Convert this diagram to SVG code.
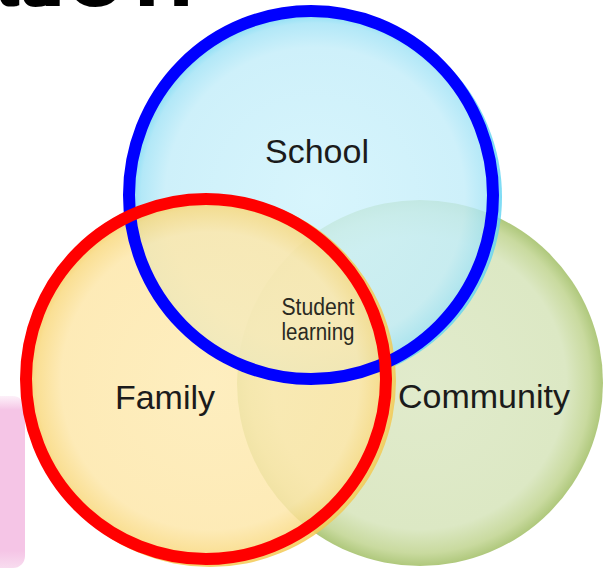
<svg xmlns="http://www.w3.org/2000/svg" width="604" height="569" viewBox="0 0 604 569">
  <style>
    .label { font-family: "Liberation Sans", Arial, sans-serif; fill: #1b1b1b; font-size: 34px; }
    .small { font-family: "Liberation Sans", Arial, sans-serif; fill: #2a2a22; font-size: 23px; }
    .title { font-family: "Liberation Sans", Arial, sans-serif; font-weight: bold; fill: #000; font-size: 100px; }
    .outline { fill: none; stroke-width: 12; }
  </style>
  <defs>
    <radialGradient id="gSchool" cx="0.5" cy="0.5" r="0.5">
      <stop offset="0" stop-color="#cff3fc"/>
      <stop offset="0.8" stop-color="#c3edf9"/>
      <stop offset="0.93" stop-color="#a2e3f6"/>
      <stop offset="1" stop-color="#5fd3f2"/>
    </radialGradient>
    <radialGradient id="gFamily" cx="0.5" cy="0.5" r="0.5">
      <stop offset="0" stop-color="#fdebb4"/>
      <stop offset="0.8" stop-color="#fde7aa"/>
      <stop offset="0.93" stop-color="#f9da82"/>
      <stop offset="1" stop-color="#f3c850"/>
    </radialGradient>
    <radialGradient id="gCommunity" cx="0.5" cy="0.5" r="0.5">
      <stop offset="0" stop-color="#e1ebcc"/>
      <stop offset="0.8" stop-color="#dce8c4"/>
      <stop offset="0.93" stop-color="#c9da9f"/>
      <stop offset="1" stop-color="#afc87c"/>
    </radialGradient>
    <linearGradient id="gPink" x1="0" y1="0" x2="0" y2="1">
      <stop offset="0" stop-color="#f7cdea" stop-opacity="0.3"/>
      <stop offset="0.08" stop-color="#f5c5e6"/>
      <stop offset="0.9" stop-color="#f5c5e6"/>
      <stop offset="1" stop-color="#f8dcef"/>
    </linearGradient>
  </defs>

  <rect width="604" height="569" fill="#ffffff"/>

  <g id="title-fragment">
    <text class="title" x="-37 15 39 65 133" y="6">ation</text>
  </g>

  <g id="side-decoration">
    <rect x="-20" y="396" width="45" height="172" rx="12" fill="url(#gPink)"/>
  </g>

  <g id="community">
    <circle cx="420" cy="383" r="183" fill="url(#gCommunity)"/>
    <text class="label" x="398" y="408">Community</text>
  </g>

  <g id="school">
    <circle cx="315" cy="197" r="187" fill="url(#gSchool)" opacity="0.82"/>
    <text class="label" x="317" y="163" text-anchor="middle">School</text>
  </g>

  <g id="family">
    <circle cx="210" cy="381" r="186" fill="url(#gFamily)" opacity="0.85"/>
    <text class="label" x="165" y="409" text-anchor="middle">Family</text>
  </g>

  <g id="outlines">
    <ellipse class="outline" cx="311" cy="195" rx="182" ry="184" stroke="#0000ff"/>
    <circle class="outline" cx="206" cy="379" r="180" stroke="#ff0000"/>
  </g>

  <g id="connectors"/>

  <g id="student-learning">
    <text class="small" x="318" y="315" text-anchor="middle" textLength="73" lengthAdjust="spacingAndGlyphs">Student</text>
    <text class="small" x="318" y="340" text-anchor="middle" textLength="73" lengthAdjust="spacingAndGlyphs">learning</text>
  </g>
</svg>
